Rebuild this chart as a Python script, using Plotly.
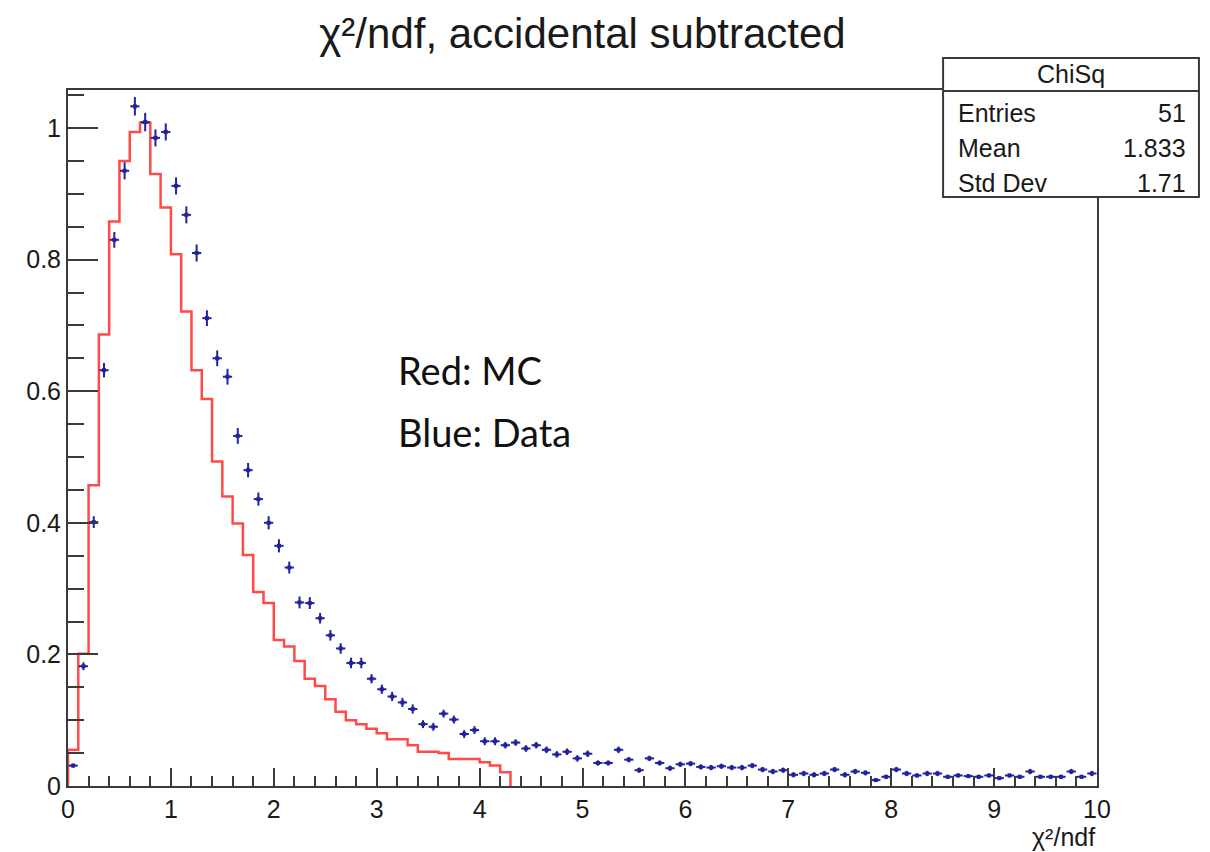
import numpy as np
import plotly.graph_objects as go

# ---------------- data ----------------
BIN_WIDTH = 0.1
N_BINS = 100
bin_lo = np.round(np.arange(N_BINS) * BIN_WIDTH, 2)
bin_centers = np.round(bin_lo + BIN_WIDTH / 2, 3)

data_values = [
    0.031, 0.182, 0.401, 0.632, 0.830, 0.935, 1.033, 1.009, 0.985, 0.994,
    0.912, 0.868, 0.810, 0.711, 0.650, 0.622, 0.532, 0.480, 0.436, 0.400,
    0.365, 0.332, 0.279, 0.278, 0.255, 0.229, 0.209, 0.187, 0.187, 0.163,
    0.147, 0.136, 0.127, 0.117, 0.094, 0.090, 0.110, 0.101, 0.079, 0.085,
    0.068, 0.068, 0.062, 0.066, 0.057, 0.062, 0.055, 0.048, 0.052, 0.042,
    0.049, 0.035, 0.035, 0.055, 0.040, 0.024, 0.042, 0.035, 0.027, 0.033,
    0.034, 0.029, 0.028, 0.030, 0.028, 0.028, 0.031, 0.025, 0.022, 0.024,
    0.017, 0.019, 0.017, 0.019, 0.025, 0.017, 0.022, 0.020, 0.009, 0.014,
    0.025, 0.019, 0.016, 0.019, 0.019, 0.014, 0.016, 0.015, 0.014, 0.016,
    0.012, 0.016, 0.014, 0.022, 0.014, 0.014, 0.014, 0.022, 0.014, 0.019,
]

data_errors = [
    0.003, 0.006, 0.009, 0.011, 0.012, 0.013, 0.014, 0.014, 0.013, 0.013,
    0.013, 0.013, 0.013, 0.012, 0.012, 0.012, 0.012, 0.011, 0.010, 0.010,
    0.010, 0.009, 0.009, 0.009, 0.008, 0.008, 0.008, 0.008, 0.008, 0.007,
    0.007, 0.007, 0.007, 0.007, 0.006, 0.006, 0.006, 0.006, 0.006, 0.006,
    0.006, 0.006, 0.005, 0.005, 0.005, 0.005, 0.005, 0.005, 0.005, 0.005,
    0.005, 0.004, 0.004, 0.005, 0.004, 0.004, 0.004, 0.004, 0.004, 0.004,
    0.004, 0.004, 0.004, 0.004, 0.004, 0.004, 0.004, 0.004, 0.004, 0.004,
    0.004, 0.004, 0.004, 0.004, 0.004, 0.004, 0.004, 0.004, 0.003, 0.003,
    0.004, 0.004, 0.003, 0.004, 0.004, 0.003, 0.003, 0.003, 0.003, 0.003,
    0.003, 0.003, 0.003, 0.004, 0.003, 0.003, 0.003, 0.004, 0.003, 0.004,
]

mc_values = [
    0.055, 0.201, 0.457, 0.686, 0.858, 0.950, 0.994, 1.008, 0.930, 0.879,
    0.808, 0.721, 0.632, 0.588, 0.493, 0.440, 0.399, 0.351, 0.295, 0.278,
    0.222, 0.212, 0.190, 0.163, 0.152, 0.132, 0.113, 0.100, 0.094, 0.087,
    0.080, 0.071, 0.071, 0.062, 0.052, 0.052, 0.050, 0.041, 0.041, 0.041,
    0.036, 0.031, 0.021, 0.0, 0.0, 0.0, 0.0, 0.0, 0.0, 0.0,
] + [0.0] * 50

x_tick_vals = [0, 1, 2, 3, 4, 5, 6, 7, 8, 9, 10]
x_tick_text = ["0", "1", "2", "3", "4", "5", "6", "7", "8", "9", "10"]
y_tick_vals = [0, 0.2, 0.4, 0.6, 0.8, 1.0]
y_tick_text = ["0", "0.2", "0.4", "0.6", "0.8", "1"]

stats_title = "ChiSq"
stats_labels = ["Entries", "Mean", "Std Dev"]
stats_values = ["51", "1.833", "1.71"]

# ---------------- figure geometry ----------------
OFF = 8  # page body margin: the figure is drawn 8 px in from the top-left
W, H = 1210 - OFF, 852 - OFF
L, R, T, B = 67.5 - OFF, 1097 - OFF, 90 - OFF, 786 - OFF  # plot area (figure pixels)
FONT = "Liberation Sans, Arial, Helvetica, sans-serif"
AXIS_COLOR = "#3a3a3a"
TEXT_COLOR = "#1a1a1a"
BLUE = "#22229c"
RED = "#ff4a4a"


def px(xref_pix):
    """Reference-picture x pixel -> paper coordinate."""
    return (xref_pix - OFF - L) / (R - L)


def py(yref_pix):
    """Reference-picture y pixel -> paper coordinate."""
    return (B - (yref_pix - OFF)) / (B - T)


# MC histogram drawn as a step outline (trim trailing empty bins)
last = max(i for i, v in enumerate(mc_values) if v > 0)
mc_x = [float(bin_lo[0])] + [float(v) for v in bin_lo[: last + 1]] + [float(bin_lo[last] + BIN_WIDTH)]
mc_y = [0.0] + mc_values[: last + 1] + [0.0]

fig = go.Figure()

fig.add_trace(
    go.Scatter(
        x=mc_x,
        y=mc_y,
        mode="lines",
        line=dict(shape="hv", color=RED, width=2.5),
        hoverinfo="skip",
        showlegend=False,
    )
)

fig.add_trace(
    go.Scatter(
        x=bin_centers,
        y=data_values,
        mode="markers",
        marker=dict(color=BLUE, size=4, symbol="square"),
        error_x=dict(type="constant", value=0.045, color=BLUE, thickness=2, width=0),
        error_y=dict(type="data", array=data_errors, color=BLUE, thickness=2, width=0),
        showlegend=False,
    )
)

axis_common = dict(
    showline=True,
    linecolor=AXIS_COLOR,
    linewidth=2,
    mirror=True,
    showgrid=False,
    zeroline=False,
    ticks="inside",
    tickcolor=AXIS_COLOR,
    tickwidth=2,
    tickfont=dict(family=FONT, size=25, color=TEXT_COLOR),
)

fig.update_xaxes(
    range=[0, 10],
    tickvals=x_tick_vals,
    ticktext=x_tick_text,
    ticklen=18,
    minor=dict(dtick=0.2, ticklen=10, ticks="inside", tickcolor=AXIS_COLOR, tickwidth=2),
    **axis_common,
)
fig.update_yaxes(
    range=[0, (B - T) / 658.0],
    tickvals=y_tick_vals,
    ticktext=y_tick_text,
    ticklen=30,
    minor=dict(dtick=0.05, ticklen=16, ticks="inside", tickcolor=AXIS_COLOR, tickwidth=2),
    **axis_common,
)

annotations = []
# x-axis title
annotations.append(
    dict(
        text="χ²/ndf",
        xref="paper", yref="paper",
        x=1.0, y=py(837),
        xanchor="right", yanchor="middle",
        showarrow=False,
        font=dict(family=FONT, size=25, color=TEXT_COLOR),
    )
)
# text labels
annotations.append(
    dict(
        text="Red: MC",
        xref="paper", yref="paper",
        x=px(396), y=py(370),
        xanchor="left", yanchor="middle",
        showarrow=False,
        font=dict(family="Lato, Carlito, Calibri, sans-serif", size=38, color="#111111"),
    )
)
annotations.append(
    dict(
        text="Blue: Data",
        xref="paper", yref="paper",
        x=px(396), y=py(432),
        xanchor="left", yanchor="middle",
        showarrow=False,
        font=dict(family="Lato, Carlito, Calibri, sans-serif", size=38, color="#111111"),
    )
)

# stats box
box_l, box_r, box_t, box_b, box_sep = 943, 1199, 58, 197, 91
shapes = [
    dict(
        type="rect", xref="paper", yref="paper",
        x0=px(box_l), x1=px(box_r), y0=py(box_b), y1=py(box_t),
        line=dict(color=AXIS_COLOR, width=2), fillcolor="white", layer="above",
    ),
    dict(
        type="line", xref="paper", yref="paper",
        x0=px(box_l), x1=px(box_r), y0=py(box_sep), y1=py(box_sep),
        line=dict(color=AXIS_COLOR, width=2), layer="above",
    ),
]
annotations.append(
    dict(
        text=stats_title, xref="paper", yref="paper",
        x=px((box_l + box_r) / 2), y=py(74),
        xanchor="center", yanchor="middle", showarrow=False,
        font=dict(family=FONT, size=25, color=TEXT_COLOR),
    )
)
row_y = [113, 148, 183]
for lab, val, yy in zip(stats_labels, stats_values, row_y):
    annotations.append(
        dict(
            text=lab, xref="paper", yref="paper",
            x=px(956), y=py(yy), xanchor="left", yanchor="middle", showarrow=False,
            font=dict(family=FONT, size=25, color=TEXT_COLOR),
        )
    )
    annotations.append(
        dict(
            text=val, xref="paper", yref="paper",
            x=px(1188), y=py(yy), xanchor="right", yanchor="middle", showarrow=False,
            font=dict(family=FONT, size=25, color=TEXT_COLOR),
        )
    )

fig.update_layout(
    width=W,
    height=H,
    margin=dict(l=L, r=W - R, t=T, b=H - B),
    paper_bgcolor="white",
    plot_bgcolor="white",
    title=dict(
        text="χ²/ndf, accidental subtracted",
        x=0.5, xref="paper", xanchor="center",
        y=1 - (33 - OFF) / H, yref="container", yanchor="middle",
        font=dict(family=FONT, size=42, color=TEXT_COLOR),
    ),
    shapes=shapes,
    annotations=annotations,
    showlegend=False,
)

fig.write_html("out.html")
